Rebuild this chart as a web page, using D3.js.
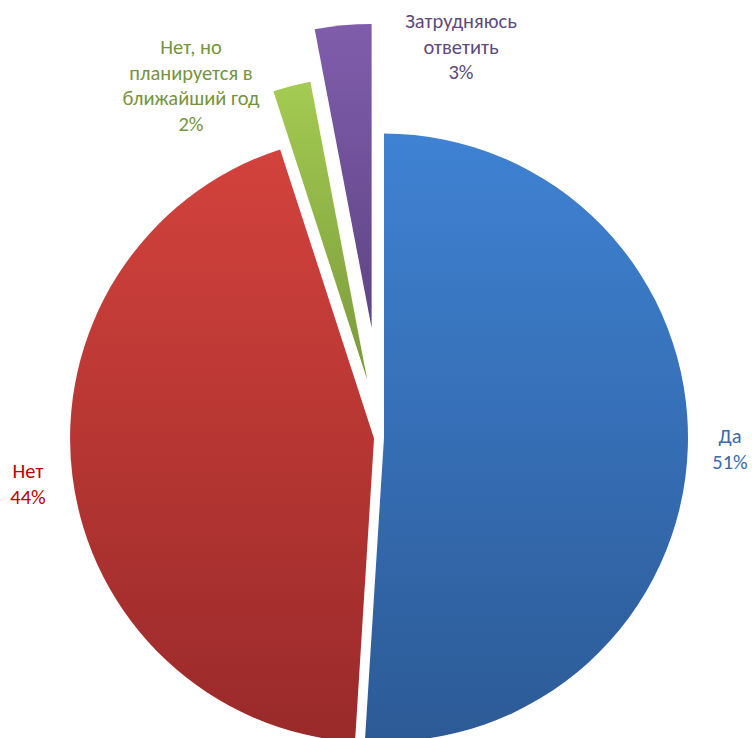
<!DOCTYPE html>
<html>
<head>
<meta charset="utf-8">
<script src="https://cdn.jsdelivr.net/npm/d3@7"></script>
<style>
  body { margin: 0; background: #fff; }
  svg { display: block; }
  text { font-family: Carlito, "Noto Sans", "Open Sans", sans-serif; font-size: 20.5px; }
</style>
</head>
<body>
<svg id="canvas" width="752" height="738"></svg>
<script>
// answers and their shares (%)
const categories = ["Да", "Нет", "Нет, но планируется в ближайший год", "Затрудняюсь ответить"];
const values = [51, 44, 2, 3];
const labelLines = [["Да", "51%"], ["Нет", "44%"], ["Нет, но", "планируется в", "ближайший год", "2%"], ["Затрудняюсь", "ответить", "3%"]];

// styling per slice
const explode = [2, 8, 59, 110];
const topColors = ["#3f82d3", "#d3423c", "#a4cb52", "#805dac"];
const bottomColors = ["#2c5a96", "#992a2a", "#7a993a", "#5e4484"];
const textColors = ["#3a6ba5", "#c00000", "#77933c", "#604a7b"];
// label anchor (centre x, first baseline y)
const labelPos = [[730, 443], [28, 478], [191, 54], [461, 28]];

const svg = d3.select('#canvas');
const cx = 382, cy = 437.5, radius = 304;

let pie = d3.pie().sort(null).value(d => d.value);
let arc = d3.arc().innerRadius(0).outerRadius(radius);

let data = categories.map((c, i) => ({name: c, value: values[i], i: i}));
let arcs = pie(data);

// vertical gradients, lighter on top
let defs = svg.append('defs');
defs.selectAll('linearGradient')
    .data(arcs)
    .join('linearGradient')
    .attr('id', d => 'grad' + d.data.i)
    .attr('x1', 0).attr('y1', 0).attr('x2', 0).attr('y2', 1)
    .call(g => {
        g.append('stop').attr('offset', '0%').attr('stop-color', d => topColors[d.data.i]);
        g.append('stop').attr('offset', '100%').attr('stop-color', d => bottomColors[d.data.i]);
    });

svg.append('g')
    .attr('transform', `translate(${cx},${cy})`)
    .selectAll('path')
    .data(arcs)
    .join('path')
    .attr('d', arc)
    .attr('transform', d => {
        let mid = (d.startAngle + d.endAngle) / 2;
        let off = explode[d.data.i];
        return `translate(${off * Math.sin(mid)},${-off * Math.cos(mid)})`;
    })
    .attr('fill', d => `url(#grad${d.data.i})`);

// labels
let labels = svg.append('g')
    .selectAll('text')
    .data(arcs)
    .join('text')
    .attr('text-anchor', 'middle')
    .attr('fill', d => textColors[d.data.i]);

labels.each(function(d){
    let t = d3.select(this);
    let p = labelPos[d.data.i];
    labelLines[d.data.i].forEach((line, k) => {
        t.append('tspan')
            .attr('x', p[0])
            .attr('y', p[1] + k * 25.5)
            .text(line);
    });
});
</script>
</body>
</html>
